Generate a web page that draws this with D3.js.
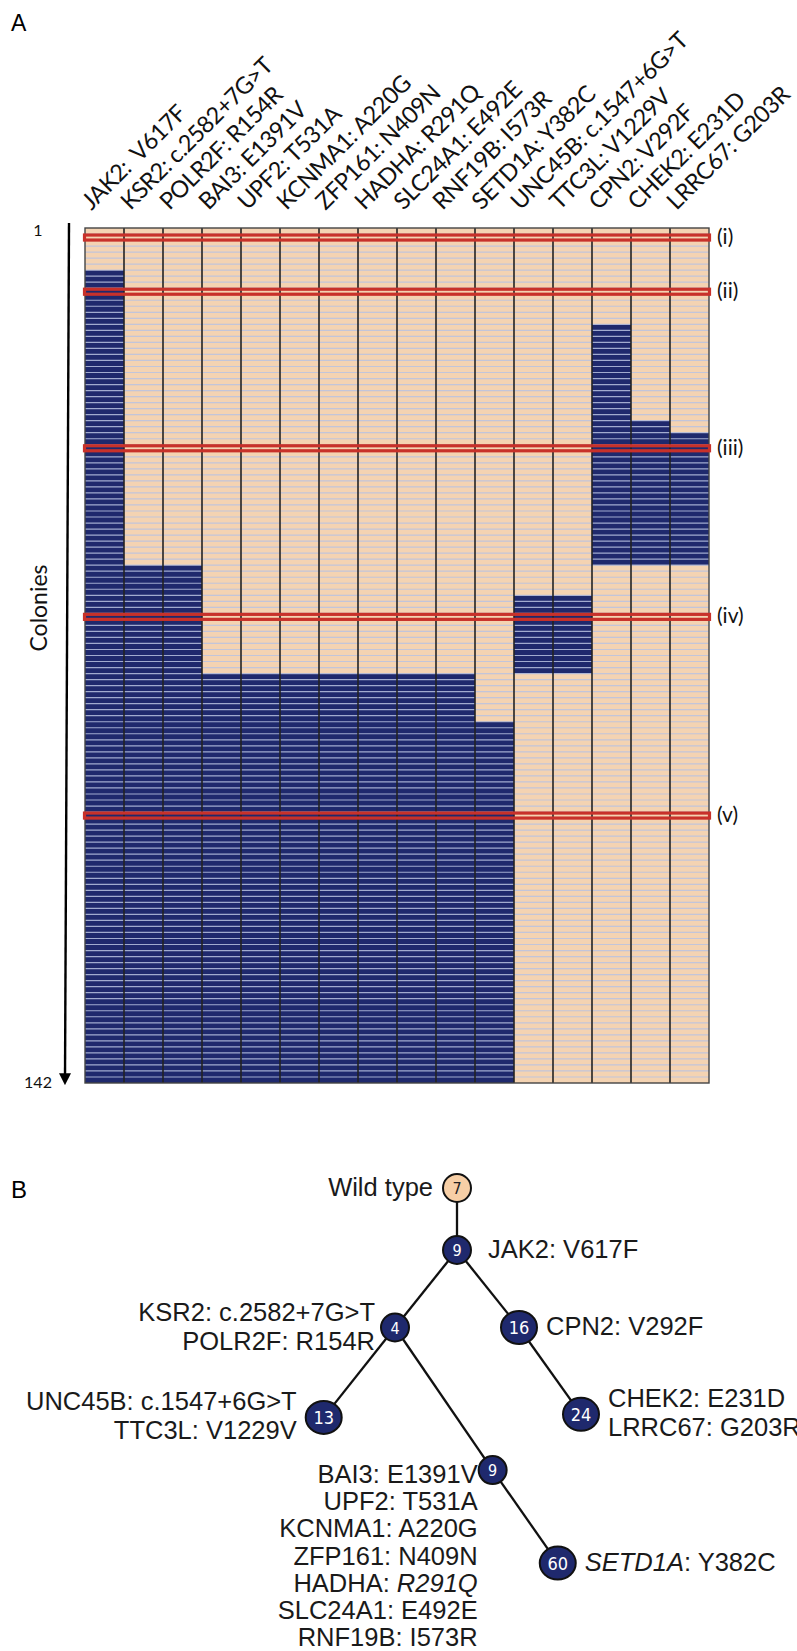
<!DOCTYPE html>
<html>
<head>
<meta charset="utf-8">
<script src="https://cdnjs.cloudflare.com/ajax/libs/d3/7.8.5/d3.min.js"></script>
<style>
  body { margin: 0; background: #fff; }
  svg { display: block; }
</style>
</head>
<body>
<div id="chart"></div>
<script>
// Panel A: one column per mutation, one row per colony (1..142)
var genes = ['JAK2:\u00a0 V617F', 'KSR2: c.2582+7G>T', 'POLR2F: R154R', 'BAI3: E1391V', 'UPF2: T531A',
             'KCNMA1: A220G', 'ZFP161: N409N', 'HADHA: R291Q', 'SLC24A1: E492E', 'RNF19B: I573R',
             'SETD1A: Y382C', 'UNC45B: c.1547+6G>T', 'TTC3L: V1229V', 'CPN2: V292F', 'CHEK2: E231D',
             'LRRC67: G203R'];
var mutFirst = [8, 57, 57, 75, 75, 75, 75, 75, 75, 75, 83, 62, 62, 17, 33, 35];   // first mutated colony
var mutLast  = [142, 142, 142, 142, 142, 142, 142, 142, 142, 142, 142, 74, 74, 56, 56, 56];
var nColonies = 142;
var colonyTicks = [1, 142];
var markedRows = [2, 11, 37, 65, 98];
var markedLabels = ['(i)', '(ii)', '(iii)', '(iv)', '(v)'];

// Panel B: clone tree (counts = colonies per clone)
var nodeIds    = ['wt', 'jak2', 'ksr2', 'cpn2', 'unc45b', 'chek2', 'bai3', 'setd1a'];
var nodeParent = [null, 'wt', 'jak2', 'jak2', 'ksr2', 'cpn2', 'ksr2', 'bai3'];
var nodeCount  = [7, 9, 4, 16, 13, 24, 9, 60];
var nodeLabels = [
  ['Wild type'],
  ['JAK2: V617F'],
  ['KSR2: c.2582+7G>T', 'POLR2F: R154R'],
  ['CPN2: V292F'],
  ['UNC45B: c.1547+6G>T', 'TTC3L: V1229V'],
  ['CHEK2: E231D', 'LRRC67: G203R'],
  ['BAI3: E1391V', 'UPF2: T531A', 'KCNMA1: A220G', 'ZFP161: N409N', 'HADHA: *R291Q*', 'SLC24A1: E492E', 'RNF19B: I573R'],
  ['*SETD1A*: Y382C']
];
// tree layout units (lateral offset, generation depth)
var nodeLateral = [0, 0, -2, 2, -4.3, 4, 1.15, 3.25];
var nodeDepth   = [0, 1, 2.25, 2.25, 3.7, 3.65, 4.55, 6.05];

var W = 797, H = 1651;
var beige = '#f4d3b2', navy = '#1f296d', red = '#c8312a';
var labelFont = 'Lato, "Open Sans", sans-serif';
var treeFont = '"Liberation Sans", Arial, sans-serif';

var svg = d3.select('#chart').append('svg')
    .attr('width', W)
    .attr('height', H);

// ---------- panel A ----------
var x = d3.scaleBand().domain(d3.range(genes.length)).range([85, 709]);
var y = d3.scaleLinear().domain([1, nColonies + 1]).range([228, 1083]);

svg.append('text')
    .attr('x', 11).attr('y', 31)
    .style('font-family', treeFont).style('font-size', '23px')
    .text('A');

var grid = svg.append('g');

grid.selectAll('rect.bg')
    .data(genes)
    .enter().append('rect')
    .attr('class', 'bg')
    .attr('x', function(d, i){ return x(i); })
    .attr('y', y(1))
    .attr('width', x.bandwidth())
    .attr('height', y(nColonies + 1) - y(1))
    .attr('fill', beige);

grid.selectAll('rect.mut')
    .data(genes)
    .enter().append('rect')
    .attr('class', 'mut')
    .attr('x', function(d, i){ return x(i); })
    .attr('y', function(d, i){ return y(mutFirst[i]); })
    .attr('width', x.bandwidth())
    .attr('height', function(d, i){ return y(mutLast[i] + 1) - y(mutFirst[i]); })
    .attr('fill', navy);

// thin separators between colonies
grid.selectAll('line.row')
    .data(d3.range(2, nColonies + 1))
    .enter().append('line')
    .attr('class', 'row')
    .attr('x1', x.range()[0]).attr('x2', x.range()[1])
    .attr('y1', function(r){ return y(r); })
    .attr('y2', function(r){ return y(r); })
    .attr('stroke', '#b9c2e0')
    .attr('stroke-opacity', 0.85)
    .attr('stroke-width', 1.2);

grid.selectAll('line.col')
    .data(d3.range(1, genes.length))
    .enter().append('line')
    .attr('class', 'col')
    .attr('x1', function(i){ return x(i); })
    .attr('x2', function(i){ return x(i); })
    .attr('y1', y(1)).attr('y2', y(nColonies + 1))
    .attr('stroke', '#222')
    .attr('stroke-width', 1.6);

grid.append('rect')
    .attr('x', x.range()[0]).attr('y', y(1))
    .attr('width', x.range()[1] - x.range()[0])
    .attr('height', y(nColonies + 1) - y(1))
    .attr('fill', 'none')
    .attr('stroke', '#444')
    .attr('stroke-width', 1.4);

// highlighted colonies
grid.selectAll('rect.mark')
    .data(markedRows)
    .enter().append('rect')
    .attr('class', 'mark')
    .attr('x', x.range()[0] - 0.5)
    .attr('y', function(r){ return y(r) + 1; })
    .attr('width', x.range()[1] - x.range()[0] + 1)
    .attr('height', function(r){ return y(r + 1) - y(r) - 1; })
    .attr('fill', 'none')
    .attr('stroke', red)
    .attr('stroke-width', 3.2);

svg.selectAll('text.mark')
    .data(markedRows)
    .enter().append('text')
    .attr('class', 'mark')
    .attr('x', 717)
    .attr('y', function(r){ return (y(r) + y(r + 1)) / 2 + 7; })
    .style('font-family', labelFont).style('font-size', '21px')
    .attr('fill', '#111')
    .text(function(d, i){ return markedLabels[i]; });

// mutation labels
svg.selectAll('text.gene')
    .data(genes)
    .enter().append('text')
    .attr('class', 'gene')
    .attr('transform', function(d, i){
        return 'translate(' + (x(i) + x.bandwidth() / 2 - 13) + ',211) rotate(-45)';
    })
    .style('font-family', labelFont).style('font-size', '23.5px')
    .style('letter-spacing', '-0.5px')
    .attr('fill', '#111')
    .text(function(d){ return d; });

// colony axis
svg.append('defs').append('marker')
    .attr('id', 'arrow')
    .attr('viewBox', '0 0 10 10')
    .attr('refX', 4).attr('refY', 5)
    .attr('markerWidth', 5).attr('markerHeight', 5)
    .attr('orient', 'auto')
    .append('path')
    .attr('d', 'M0,0L10,5L0,10Z')
    .attr('fill', '#000');

svg.append('line')
    .attr('x1', 69).attr('y1', 223)
    .attr('x2', 65).attr('y2', y(nColonies + 1) - 5)
    .attr('stroke', '#000')
    .attr('stroke-width', 2.4)
    .attr('marker-end', 'url(#arrow)');

svg.selectAll('text.tick')
    .data(colonyTicks)
    .enter().append('text')
    .attr('class', 'tick')
    .attr('x', 38)
    .attr('y', function(d, i){ return i === 0 ? 236 : 1088; })
    .attr('text-anchor', 'middle')
    .style('font-family', labelFont).style('font-size', '16px')
    .attr('fill', '#111')
    .text(function(d){ return d; });

svg.append('text')
    .attr('transform', 'translate(47,608) rotate(-90)')
    .attr('text-anchor', 'middle')
    .style('font-family', labelFont).style('font-size', '23px')
    .attr('fill', '#111')
    .text('Colonies');

// ---------- panel B ----------
svg.append('text')
    .attr('x', 11).attr('y', 1198)
    .style('font-family', treeFont).style('font-size', '24px')
    .text('B');

var tx = d3.scaleLinear().domain([0, 1]).range([457, 488]);
var ty = d3.scaleLinear().domain([0, 1]).range([1188, 1250]);

var nodes = nodeIds.map(function(id, i){
    return {id: id, parent: nodeParent[i], count: nodeCount[i], label: nodeLabels[i],
            px: tx(nodeLateral[i]), py: ty(nodeDepth[i]), idx: i};
});
var root = d3.stratify().id(function(d){ return d.id; }).parentId(function(d){ return d.parent; })(nodes);

var tree = svg.append('g');

tree.selectAll('line.link')
    .data(root.links())
    .enter().append('line')
    .attr('class', 'link')
    .attr('x1', function(d){ return d.source.data.px; })
    .attr('y1', function(d){ return d.source.data.py; })
    .attr('x2', function(d){ return d.target.data.px; })
    .attr('y2', function(d){ return d.target.data.py; })
    .attr('stroke', '#111')
    .attr('stroke-width', 2.3);

function rx(d){ return d.count >= 10 ? 18 : 14; }
function ry(d){ return d.count >= 10 ? 16.5 : 14; }

var nodeG = tree.selectAll('g.node')
    .data(root.descendants())
    .enter().append('g')
    .attr('class', 'node')
    .attr('transform', function(d){ return 'translate(' + d.data.px + ',' + d.data.py + ')'; });

nodeG.append('ellipse')
    .attr('rx', function(d){ return rx(d.data); })
    .attr('ry', function(d){ return ry(d.data); })
    .attr('fill', function(d){ return d.data.id === 'wt' ? '#f7cfa6' : navy; })
    .attr('stroke', '#111')
    .attr('stroke-width', 2);

nodeG.append('text')
    .attr('text-anchor', 'middle')
    .attr('y', function(d){ return d.data.count >= 10 ? 6.5 : 6; })
    .style('font-family', '"DejaVu Sans Condensed", "Liberation Sans Narrow", sans-serif')
    .style('font-size', function(d){ return d.data.count >= 10 ? '18px' : '16px'; })
    .attr('fill', function(d){ return d.data.id === 'wt' ? '#222' : '#fff'; })
    .text(function(d){ return d.data.count; });

// mutation labels alternate left / right of the nodes
var labelGap = {wt: 10, jak2: 17, ksr2: 6, bai3: 1};

nodeG.each(function(d){
    var left = d.data.idx % 2 === 0;
    var n = d.data.label.length;
    var gap = labelGap[d.data.id] !== undefined ? labelGap[d.data.id] : 9;
    var step = n > 2 ? 27.2 : 29;
    var first = n > 2 ? 13 : 7.5 - (n - 1) * 14.5;
    var t = d3.select(this).append('text')
        .attr('text-anchor', left ? 'end' : 'start')
        .style('font-family', treeFont).style('font-size', '25.5px')
        .attr('fill', '#1a1a1a');
    d.data.label.forEach(function(line, k){
        var row = t.append('tspan')
            .attr('x', left ? -rx(d.data) - gap : rx(d.data) + gap)
            .attr('y', first + k * step);
        line.split('*').forEach(function(part, j){
            if (!part) return;
            row.append('tspan')
                .style('font-style', j % 2 ? 'italic' : 'normal')
                .text(part);
        });
    });
});
</script>
</body>
</html>
